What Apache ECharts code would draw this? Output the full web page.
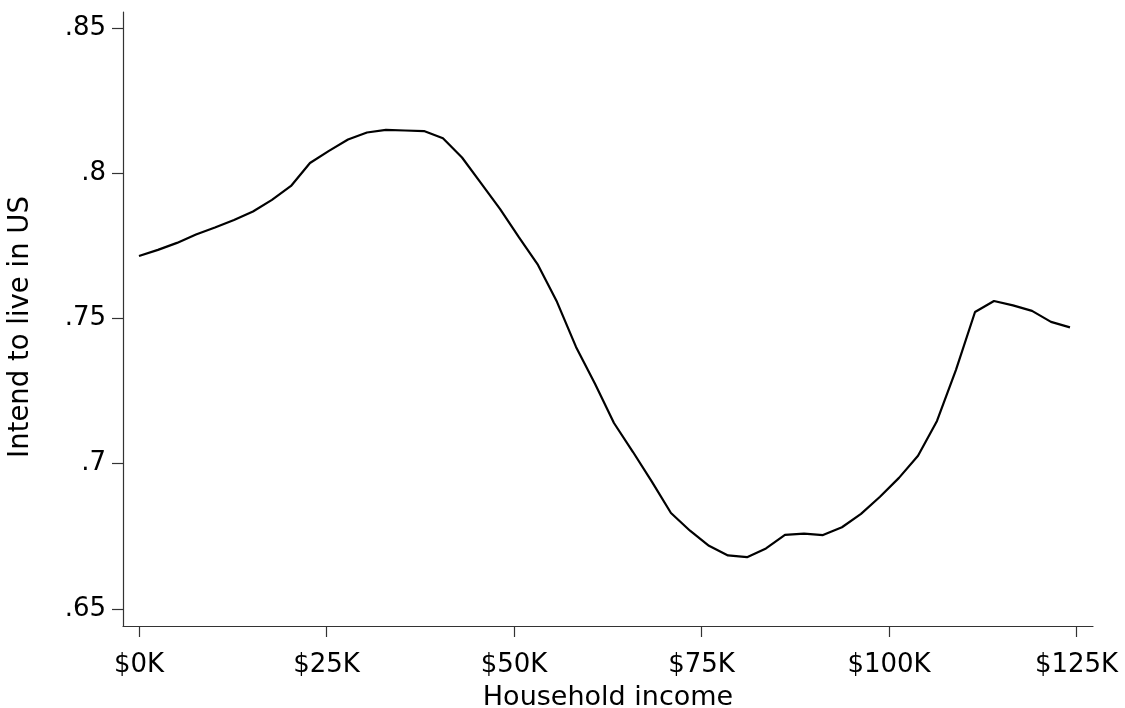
<!DOCTYPE html>
<html>
<head>
<meta charset="utf-8">
<script src="https://cdn.jsdelivr.net/npm/echarts@6/dist/echarts.min.js"></script>
<style>
html,body{margin:0;padding:0;background:#fff;}
#chart{width:1125px;height:708px;}
</style>
</head>
<body>
<div id="chart"></div>
<script>
// Household income (thousands of dollars)
var incomeK = [0, 2.53, 5.07, 7.6, 10.13, 12.67, 15.2, 17.73, 20.27, 22.8,
  25.33, 27.87, 30.4, 32.93, 35.47, 38.0, 40.53, 43.07, 45.6, 48.13,
  50.67, 53.2, 55.73, 58.27, 60.8, 63.33, 65.87, 68.4, 70.93, 73.47,
  76.0, 78.53, 81.07, 83.6, 86.13, 88.67, 91.2, 93.73, 96.27, 98.8,
  101.33, 103.87, 106.4, 108.93, 111.47, 114.0, 116.53, 119.07, 121.6, 124.13];
// Intend to live in US (share)
var intendUS = [0.7715, 0.7736, 0.7760, 0.7789, 0.7813, 0.7839, 0.7868, 0.7908, 0.7956, 0.8035,
  0.8077, 0.8116, 0.8140, 0.8149, 0.8147, 0.8145, 0.8120, 0.8054, 0.7966, 0.7877,
  0.7779, 0.7684, 0.7557, 0.7402, 0.7275, 0.7140, 0.7040, 0.6937, 0.6830, 0.6769,
  0.6717, 0.6684, 0.6678, 0.6708, 0.6755, 0.6759, 0.6754, 0.6781, 0.6827, 0.6886,
  0.6951, 0.7027, 0.7147, 0.7323, 0.7522, 0.7560, 0.7545, 0.7526, 0.7488, 0.7469];
var xTickValues = [0, 25, 50, 75, 100, 125];
var xTickLabels = ['$0K', '$25K', '$50K', '$75K', '$100K', '$125K'];
var yTickValues = [0.65, 0.7, 0.75, 0.8, 0.85];
var yTickLabels = ['.65', '.7', '.75', '.8', '.85'];

var points = incomeK.map(function (x, i) { return [x, intendUS[i]]; });
var font = 'DejaVu Sans, Verdana, sans-serif';
var chart = echarts.init(document.getElementById('chart'), null, {renderer: 'canvas'});
chart.setOption({
  animation: false,
  backgroundColor: '#ffffff',
  grid: {left: 123, right: 32, top: 12, bottom: 82, containLabel: false, outerBoundsMode: 'none'},
  xAxis: {
    type: 'value',
    min: -2.13,
    max: 127.2,
    name: 'Household income',
    nameLocation: 'middle',
    nameGap: 58,
    nameTextStyle: {fontFamily: font, fontSize: 27, color: '#000'},
    axisLine: {show: true, onZero: false, lineStyle: {color: '#333', width: 1.2}},
    axisTick: {show: true, length: 11, customValues: xTickValues, lineStyle: {color: '#333', width: 1.2}},
    axisLabel: {
      customValues: xTickValues,
      margin: 26,
      fontFamily: font, fontSize: 26, color: '#000',
      formatter: function (v) { var i = xTickValues.indexOf(v); return i >= 0 ? xTickLabels[i] : ''; }
    },
    splitLine: {show: false}
  },
  yAxis: {
    type: 'value',
    min: 0.6441,
    max: 0.8555,
    name: 'Intend to live in US',
    nameLocation: 'middle',
    nameGap: 88,
    nameRotate: 90,
    nameTextStyle: {fontFamily: font, fontSize: 27.5, color: '#000', padding: [0, 16, 0, 0]},
    axisLine: {show: true, onZero: false, lineStyle: {color: '#333', width: 1.2}},
    axisTick: {show: true, length: 11, customValues: yTickValues, lineStyle: {color: '#333', width: 1.2}},
    axisLabel: {
      customValues: yTickValues,
      margin: 17,
      fontFamily: font, fontSize: 26, color: '#000',
      formatter: function (v) {
        for (var i = 0; i < yTickValues.length; i++) {
          if (Math.abs(yTickValues[i] - v) < 1e-6) return yTickLabels[i];
        }
        return '';
      }
    },
    splitLine: {show: false}
  },
  series: [{
    type: 'line',
    data: points,
    showSymbol: false,
    smooth: false,
    lineStyle: {color: '#000', width: 2.2},
    itemStyle: {color: '#000'}
  }]
});
</script>
</body>
</html>
